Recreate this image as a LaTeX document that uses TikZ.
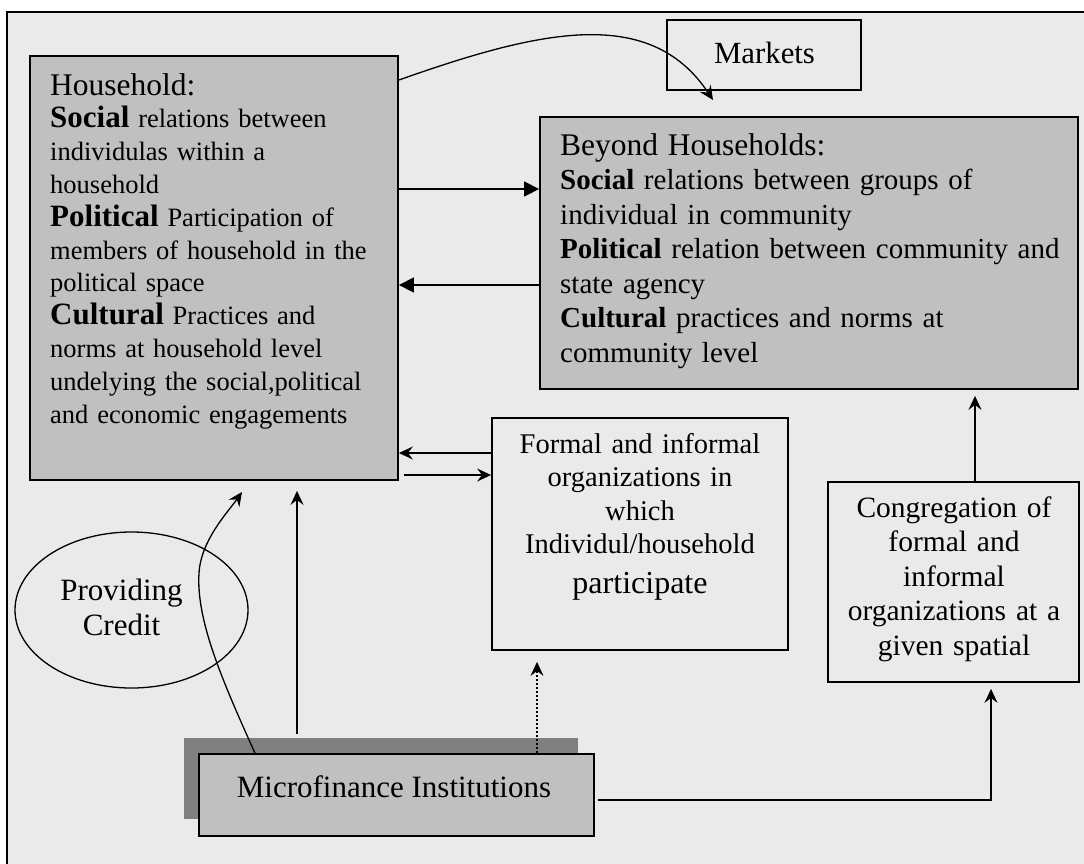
\documentclass[tikz,border=0pt]{standalone}
\usepackage{fontspec}
\setmainfont{Liberation Serif}
\usetikzlibrary{shapes.geometric,arrows.meta}
\definecolor{framebg}{HTML}{EAEAEA}
\definecolor{boxgray}{HTML}{C0C0C0}
\definecolor{shadowgray}{HTML}{808080}
\newcommand{\fsize}[2]{\fontsize{#1}{#2}\selectfont\lineskiplimit=-30pt\relax}

\begin{document}
\begin{tikzpicture}[x=1pt, y=-1pt,
    box/.style={draw, rectangle, line width=1.8pt, inner sep=0pt},
    txt/.style={inner sep=0pt, anchor=base west, align=left},
    ctxt/.style={inner sep=0pt, anchor=base, align=center},
    tri/.style={-{Triangle[length=15pt,width=15pt]}, line width=1.4pt},
    stl/.style={-{Stealth[length=14pt,width=13pt,inset=5pt]}, line width=1.4pt}]
    % Page and outer frame
    \fill[white] (0,0) rectangle (1084,863);
    \useasboundingbox (0,0) rectangle (1084,863);
    \draw[line width=1.8pt, fill=framebg] (7,12) rectangle (1100,880);

    % Household box
    \node[box, fill=boxgray, minimum width=368pt, minimum height=424pt] (hh) at (214,268) {};
    \node[txt, text width=345pt, font=\fsize{26.5}{32.8}] (hhtext) at (50,95) {%
      {\fsize{31.5}{32.8}Household:}\\
      {\fsize{31}{32.8}\bfseries Social} relations between\\
      individulas within a\\
      household\\
      {\fsize{31}{32.8}\bfseries Political} Participation of\\
      members of household in the\\
      political space\\
      {\fsize{31}{32.8}\bfseries Cultural} Practices and\\
      norms at household level\\
      undelying the social,political\\
      and economic engagements};

    % Markets box
    \node[box, minimum width=194pt, minimum height=70pt] (mk) at (764,55) {};
    \node[ctxt, font=\fsize{30.8}{34}] (mktext) at (764.5,63) {Markets};

    % Beyond households box
    \node[box, fill=boxgray, minimum width=538pt, minimum height=272pt] (bh) at (809,253) {};
    \node[txt, text width=500pt, font=\fsize{29}{34.5}] (bhtext) at (560,155) {%
      {\fsize{31.5}{34.5}Beyond Households:}\\
      \textbf{Social} relations between groups of\\
      individual in community\\
      \textbf{Political} relation between community and\\
      state agency\\
      \textbf{Cultural} practices and norms at\\
      community level};

    % Formal and informal organizations box
    \node[box, minimum width=296pt, minimum height=232pt] (fo) at (640,534) {};
    \node[ctxt, text width=290pt, font=\fsize{28.5}{33.5}] (fotext) at (640,453) {%
      Formal and informal\\
      organizations in\\
      which\\
      Individul/household\\[6pt]
      {\fsize{32}{33.5}participate}};

    % Congregation box
    \node[box, minimum width=251pt, minimum height=200pt] (cg) at (953.5,582) {};
    \node[ctxt, text width=250pt, font=\fsize{29.5}{34.5}] (cgtext) at (954,517) {%
      Congregation of\\
      formal and\\
      informal\\
      organizations at a\\
      given spatial};

    % Providing credit ellipse
    \node[draw, ellipse, line width=1.3pt, minimum width=233pt, minimum height=156pt, inner sep=0pt] (cr) at (131.5,610) {};
    \node[ctxt, text width=200pt, font=\fsize{31}{35}] (crtext) at (121.5,600) {Providing\\Credit};

    % Microfinance institutions box with its shadow
    \node[fill=shadowgray, minimum width=394pt, minimum height=81pt, inner sep=0pt] (mfis) at (381,778.5) {};
    \node[box, fill=boxgray, minimum width=395pt, minimum height=82pt] (mfi) at (396.5,795) {};
    \node[ctxt, font=\fsize{31}{35}] (mfitext) at (394,797) {Microfinance Institutions};

    % Free ends of the curved arrows
    \coordinate (mkend) at (713,100);
    \coordinate (crend) at (242,492);

    % Household to markets
    \draw[stl, line width=1.3pt] (hh.east |- 0,80) .. controls (540,30) and (650,5) .. (mkend);

    % Household and beyond households
    \draw[tri] (hh.east |- 0,189) -- (bh.west |- 0,189);
    \draw[tri] (bh.west |- 0,285) -- (hh.east |- 0,285);

    % Household and organizations
    \draw[stl] (fo.west |- 0,453) -- (hh.east |- 0,453);
    \draw[stl, shorten <=5pt] (hh.east |- 0,475) -- (fo.west |- 0,475);

    % Congregation to beyond households
    \draw[stl, shorten >=6pt] (cg.north -| 975,0) -- (bh.south -| 975,0);

    % Microfinance to household
    \draw[stl, shorten <=4pt, shorten >=10pt] (mfis.north -| 297,0) -- (hh.south -| 297,0);
    \draw[stl, line width=1.3pt] (mfi.north -| 255,0) .. controls (222,680) and (196,620) .. (199,573)
      .. controls (201,540) and (228,512) .. (crend);

    % Microfinance to organizations (dotted)
    \draw[stl, line width=1.3pt, dash pattern=on 2pt off 2pt, shorten >=11pt] (mfi.north -| 537,0) -- (fo.south -| 537,0);

    % Microfinance to congregation
    \draw[stl, shorten <=3pt, shorten >=6pt] (mfi.east |- 0,800) -| (cg.south -| 991,0);
\end{tikzpicture}
\end{document}
